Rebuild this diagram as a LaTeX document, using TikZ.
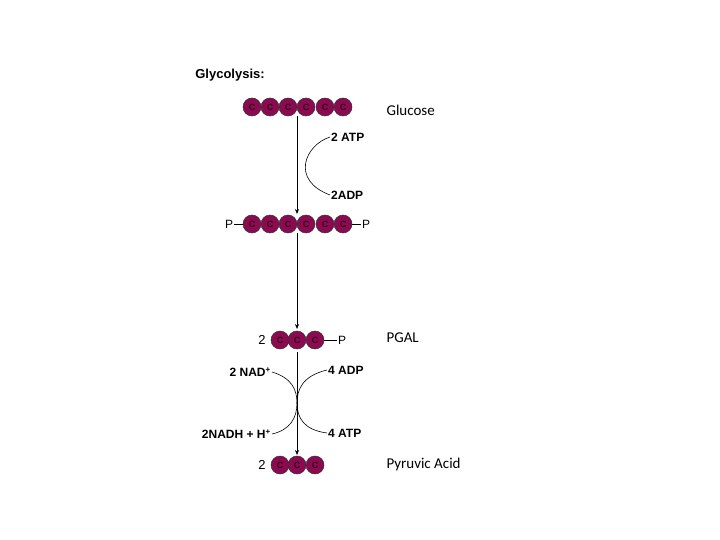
\documentclass[tikz,border=0pt]{standalone}
\usepackage{fontspec}
\usetikzlibrary{arrows.meta}
\setmainfont{Liberation Sans}
\newfontfamily\carlitofont{Carlito}
\begin{document}
\begin{tikzpicture}[x=1pt,y=-1pt,
 cc/.style={circle,draw=black!80,line width=0.5pt,fill={rgb,255:red,140;green,10;blue,80},minimum size=18pt,inner sep=0pt,font=\bfseries\fontsize{9}{9}\selectfont,text={rgb,255:red,50;green,0;blue,30}},
 lab/.style={font=\bfseries\fontsize{12}{12}\selectfont,inner sep=1pt},
 nm/.style={font=\carlitofont\fontsize{15}{15}\selectfont,anchor=west},
 ln/.style={line width=0.6pt},
 arr/.style={ln,-{Stealth[length=5pt,width=4pt]}}]
\useasboundingbox (0,0) rectangle (720,540);
\node[font=\bfseries\fontsize{13}{13}\selectfont] (t) at (230,75) {Glycolysis:};
\foreach \i/\x in {1/252,2/270,3/288,4/306,5/325,6/343}{
 \node[cc] (a\i) at (\x,107) {C};
 \node[cc] (b\i) at (\x,224) {C};}
\node[nm] (glu) at (383,110) {Glucose};
\node[lab,font=\fontsize{12}{12}\selectfont] (pl) at (229,224) {P};
\node[lab,font=\fontsize{12}{12}\selectfont] (pr) at (366,224) {P};
\draw[ln] (pl) -- (b1); \draw[ln] (b6) -- (pr);
\node[lab,anchor=west] (atp) at (330,137) {2 ATP};
\node[lab,anchor=west] (adp) at (330,195) {2ADP};
\coordinate (s1) at (297,116);
\draw[arr] (s1) -- (297,214);
\draw[ln] (atp.west) .. controls (305,145) and (290,180) .. (adp.west);
\coordinate (s2) at (297,233);
\draw[arr] (s2) -- (297,329);
\node[font=\fontsize{13}{13}\selectfont] (two1) at (262,340) {2};
\foreach \i/\x in {1/280,2/297,3/315}{
 \node[cc] (c\i) at (\x,340) {C};
 \node[cc] (d\i) at (\x,465) {C};}
\node[lab,font=\fontsize{12}{12}\selectfont] (pp) at (342,340) {P};
\draw[ln] (c3) -- (pp);
\node[nm] (pgal) at (383,338) {PGAL};
\node[font=\fontsize{13}{13}\selectfont] (two2) at (262,465) {2};
\node[nm] (pyr) at (383,464) {Pyruvic Acid};
\coordinate (s3) at (297,352);
\draw[arr] (s3) -- (297,455);
\node[lab,anchor=east] (nad) at (272,372) {2 NAD\textsuperscript{\textbf{+}}};
\node[lab,anchor=east] (nadh) at (272,434) {2NADH + H\textsuperscript{\textbf{+}}};
\node[lab,anchor=west] (adp4) at (327,370) {4 ADP};
\node[lab,anchor=west] (atp4) at (327,433) {4 ATP};
\draw[ln] (nad.east) .. controls (292,378) and (297,390) .. (297,403) .. controls (297,418) and (290,430) .. (nadh.east);
\draw[ln] (adp4.west) .. controls (302,376) and (297,390) .. (297,403) .. controls (297,418) and (304,430) .. (atp4.west);
\end{tikzpicture}
\end{document}
